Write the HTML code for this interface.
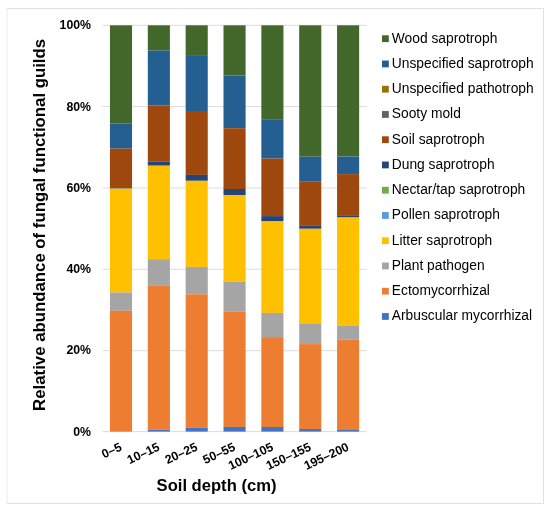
<!DOCTYPE html><html><head><meta charset="utf-8"><style>html,body{margin:0;padding:0;background:#fff;}svg{display:block;will-change:transform;}text{font-family:"Liberation Sans",sans-serif;}</style></head><body>
<svg width="550" height="510" viewBox="0 0 550 510">
<rect x="0" y="0" width="550" height="510" fill="#fff"/>
<path d="M7,8.5H543.5V503.5H7" fill="none" stroke="#e0e0e0" stroke-width="1"/>
<line x1="7" y1="8.5" x2="7" y2="503.5" stroke="#ececec" stroke-width="1"/>
<line x1="102.5" y1="25.3" x2="366.7" y2="25.3" stroke="#dcdcdc" stroke-width="1"/>
<line x1="102.5" y1="106.6" x2="366.7" y2="106.6" stroke="#dcdcdc" stroke-width="1"/>
<line x1="102.5" y1="188.0" x2="366.7" y2="188.0" stroke="#dcdcdc" stroke-width="1"/>
<line x1="102.5" y1="269.3" x2="366.7" y2="269.3" stroke="#dcdcdc" stroke-width="1"/>
<line x1="102.5" y1="350.7" x2="366.7" y2="350.7" stroke="#dcdcdc" stroke-width="1"/>
<line x1="102.5" y1="431.6" x2="366.7" y2="431.6" stroke="#dcdcdc" stroke-width="1"/>
<rect x="109.95" y="25.3" width="22.1" height="98.40" fill="#43682B"/>
<rect x="109.95" y="123.7" width="22.1" height="24.90" fill="#255E91"/>
<rect x="109.95" y="148.6" width="22.1" height="39.40" fill="#9E480E"/>
<rect x="109.95" y="188.0" width="22.1" height="0.60" fill="#264478"/>
<rect x="109.95" y="188.6" width="22.1" height="103.90" fill="#FFC000"/>
<rect x="109.95" y="292.5" width="22.1" height="18.30" fill="#A5A5A5"/>
<rect x="109.95" y="310.8" width="22.1" height="120.50" fill="#ED7D31"/>
<rect x="109.95" y="431.3" width="22.1" height="0.30" fill="#4472C4"/>
<rect x="147.79999999999998" y="25.3" width="22.1" height="25.30" fill="#43682B"/>
<rect x="147.79999999999998" y="50.6" width="22.1" height="54.70" fill="#255E91"/>
<rect x="147.79999999999998" y="105.3" width="22.1" height="56.40" fill="#9E480E"/>
<rect x="147.79999999999998" y="161.7" width="22.1" height="4.00" fill="#264478"/>
<rect x="147.79999999999998" y="165.7" width="22.1" height="93.50" fill="#FFC000"/>
<rect x="147.79999999999998" y="259.2" width="22.1" height="26.10" fill="#A5A5A5"/>
<rect x="147.79999999999998" y="285.3" width="22.1" height="144.30" fill="#ED7D31"/>
<rect x="147.79999999999998" y="429.6" width="22.1" height="2.00" fill="#4472C4"/>
<rect x="185.64999999999998" y="25.3" width="22.1" height="30.60" fill="#43682B"/>
<rect x="185.64999999999998" y="55.9" width="22.1" height="55.10" fill="#255E91"/>
<rect x="185.64999999999998" y="111.0" width="22.1" height="63.90" fill="#9E480E"/>
<rect x="185.64999999999998" y="174.9" width="22.1" height="5.90" fill="#264478"/>
<rect x="185.64999999999998" y="180.8" width="22.1" height="86.10" fill="#FFC000"/>
<rect x="185.64999999999998" y="266.9" width="22.1" height="27.40" fill="#A5A5A5"/>
<rect x="185.64999999999998" y="294.3" width="22.1" height="133.30" fill="#ED7D31"/>
<rect x="185.64999999999998" y="427.6" width="22.1" height="4.00" fill="#4472C4"/>
<rect x="223.5" y="25.3" width="22.1" height="50.20" fill="#43682B"/>
<rect x="223.5" y="75.5" width="22.1" height="52.70" fill="#255E91"/>
<rect x="223.5" y="128.2" width="22.1" height="60.80" fill="#9E480E"/>
<rect x="223.5" y="189.0" width="22.1" height="6.30" fill="#264478"/>
<rect x="223.5" y="195.3" width="22.1" height="86.50" fill="#FFC000"/>
<rect x="223.5" y="281.8" width="22.1" height="30.00" fill="#A5A5A5"/>
<rect x="223.5" y="311.8" width="22.1" height="115.10" fill="#ED7D31"/>
<rect x="223.5" y="426.9" width="22.1" height="4.70" fill="#4472C4"/>
<rect x="261.34999999999997" y="25.3" width="22.1" height="93.90" fill="#43682B"/>
<rect x="261.34999999999997" y="119.2" width="22.1" height="39.40" fill="#255E91"/>
<rect x="261.34999999999997" y="158.6" width="22.1" height="57.50" fill="#9E480E"/>
<rect x="261.34999999999997" y="216.1" width="22.1" height="5.30" fill="#264478"/>
<rect x="261.34999999999997" y="221.4" width="22.1" height="91.50" fill="#FFC000"/>
<rect x="261.34999999999997" y="312.9" width="22.1" height="24.20" fill="#A5A5A5"/>
<rect x="261.34999999999997" y="337.1" width="22.1" height="89.90" fill="#ED7D31"/>
<rect x="261.34999999999997" y="427.0" width="22.1" height="4.60" fill="#4472C4"/>
<rect x="299.2" y="25.3" width="22.1" height="131.40" fill="#43682B"/>
<rect x="299.2" y="156.7" width="22.1" height="24.50" fill="#255E91"/>
<rect x="299.2" y="181.2" width="22.1" height="44.10" fill="#9E480E"/>
<rect x="299.2" y="225.3" width="22.1" height="3.50" fill="#264478"/>
<rect x="299.2" y="228.8" width="22.1" height="94.50" fill="#FFC000"/>
<rect x="299.2" y="323.3" width="22.1" height="20.80" fill="#A5A5A5"/>
<rect x="299.2" y="344.1" width="22.1" height="84.90" fill="#ED7D31"/>
<rect x="299.2" y="429.0" width="22.1" height="2.60" fill="#4472C4"/>
<rect x="337.05" y="25.3" width="22.1" height="131.20" fill="#43682B"/>
<rect x="337.05" y="156.5" width="22.1" height="17.60" fill="#255E91"/>
<rect x="337.05" y="174.1" width="22.1" height="41.80" fill="#9E480E"/>
<rect x="337.05" y="215.9" width="22.1" height="1.60" fill="#264478"/>
<rect x="337.05" y="217.5" width="22.1" height="108.40" fill="#FFC000"/>
<rect x="337.05" y="325.9" width="22.1" height="13.50" fill="#A5A5A5"/>
<rect x="337.05" y="339.4" width="22.1" height="90.60" fill="#ED7D31"/>
<rect x="337.05" y="430.0" width="22.1" height="1.60" fill="#4472C4"/>
<text id="yl0" x="91" y="29.4" text-anchor="end" font-size="12.3" font-weight="bold" fill="#000">100%</text>
<text id="yl1" x="91" y="110.7" text-anchor="end" font-size="12.3" font-weight="bold" fill="#000">80%</text>
<text id="yl2" x="91" y="191.9" text-anchor="end" font-size="12.3" font-weight="bold" fill="#000">60%</text>
<text id="yl3" x="91" y="273.2" text-anchor="end" font-size="12.3" font-weight="bold" fill="#000">40%</text>
<text id="yl4" x="91" y="354.4" text-anchor="end" font-size="12.3" font-weight="bold" fill="#000">20%</text>
<text id="yl5" x="91" y="435.7" text-anchor="end" font-size="12.3" font-weight="bold" fill="#000">0%</text>
<text id="xl0" transform="translate(119.00,441.8) rotate(-25)" x="0" y="8.81" text-anchor="end" font-size="12.3" font-weight="bold" fill="#000">0–5</text>
<text id="xl1" transform="translate(156.85,441.8) rotate(-25)" x="0" y="8.81" text-anchor="end" font-size="12.3" font-weight="bold" fill="#000">10–15</text>
<text id="xl2" transform="translate(194.70,441.8) rotate(-25)" x="0" y="8.81" text-anchor="end" font-size="12.3" font-weight="bold" fill="#000">20–25</text>
<text id="xl3" transform="translate(232.55,441.8) rotate(-25)" x="0" y="8.81" text-anchor="end" font-size="12.3" font-weight="bold" fill="#000">50–55</text>
<text id="xl4" transform="translate(270.40,441.8) rotate(-25)" x="0" y="8.81" text-anchor="end" font-size="12.3" font-weight="bold" fill="#000">100–105</text>
<text id="xl5" transform="translate(308.25,441.8) rotate(-25)" x="0" y="8.81" text-anchor="end" font-size="12.3" font-weight="bold" fill="#000">150–155</text>
<text id="xl6" transform="translate(346.10,441.8) rotate(-25)" x="0" y="8.81" text-anchor="end" font-size="12.3" font-weight="bold" fill="#000">195–200</text>
<text id="ytitle" transform="translate(45.1,224.9) rotate(-90)" text-anchor="middle" font-size="16.8" font-weight="bold" fill="#000">Relative abundance of fungal functional guilds</text>
<text id="xtitle" x="216.5" y="491.2" text-anchor="middle" font-size="16.6" font-weight="bold" fill="#000">Soil depth (cm)</text>
<rect x="382" y="35.30" width="6.8" height="6.8" fill="#43682B"/>
<text x="391.8" y="42.50" font-size="13.8" fill="#000">Wood saprotroph</text>
<rect x="382" y="60.55" width="6.8" height="6.8" fill="#255E91"/>
<text x="391.8" y="67.75" font-size="13.8" fill="#000">Unspecified saprotroph</text>
<rect x="382" y="85.80" width="6.8" height="6.8" fill="#997300"/>
<text x="391.8" y="93.00" font-size="13.8" fill="#000">Unspecified pathotroph</text>
<rect x="382" y="111.05" width="6.8" height="6.8" fill="#636363"/>
<text x="391.8" y="118.25" font-size="13.8" fill="#000">Sooty mold</text>
<rect x="382" y="136.30" width="6.8" height="6.8" fill="#9E480E"/>
<text x="391.8" y="143.50" font-size="13.8" fill="#000">Soil saprotroph</text>
<rect x="382" y="161.55" width="6.8" height="6.8" fill="#264478"/>
<text x="391.8" y="168.75" font-size="13.8" fill="#000">Dung saprotroph</text>
<rect x="382" y="186.80" width="6.8" height="6.8" fill="#70AD47"/>
<text x="391.8" y="194.00" font-size="13.8" fill="#000">Nectar/tap saprotroph</text>
<rect x="382" y="212.05" width="6.8" height="6.8" fill="#5B9BD5"/>
<text x="391.8" y="219.25" font-size="13.8" fill="#000">Pollen saprotroph</text>
<rect x="382" y="237.30" width="6.8" height="6.8" fill="#FFC000"/>
<text x="391.8" y="244.50" font-size="13.8" fill="#000">Litter saprotroph</text>
<rect x="382" y="262.55" width="6.8" height="6.8" fill="#A5A5A5"/>
<text x="391.8" y="269.75" font-size="13.8" fill="#000">Plant pathogen</text>
<rect x="382" y="287.80" width="6.8" height="6.8" fill="#ED7D31"/>
<text x="391.8" y="295.00" font-size="13.8" fill="#000">Ectomycorrhizal</text>
<rect x="382" y="313.05" width="6.8" height="6.8" fill="#4472C4"/>
<text x="391.8" y="320.25" font-size="13.8" fill="#000">Arbuscular mycorrhizal</text>
</svg></body></html>
